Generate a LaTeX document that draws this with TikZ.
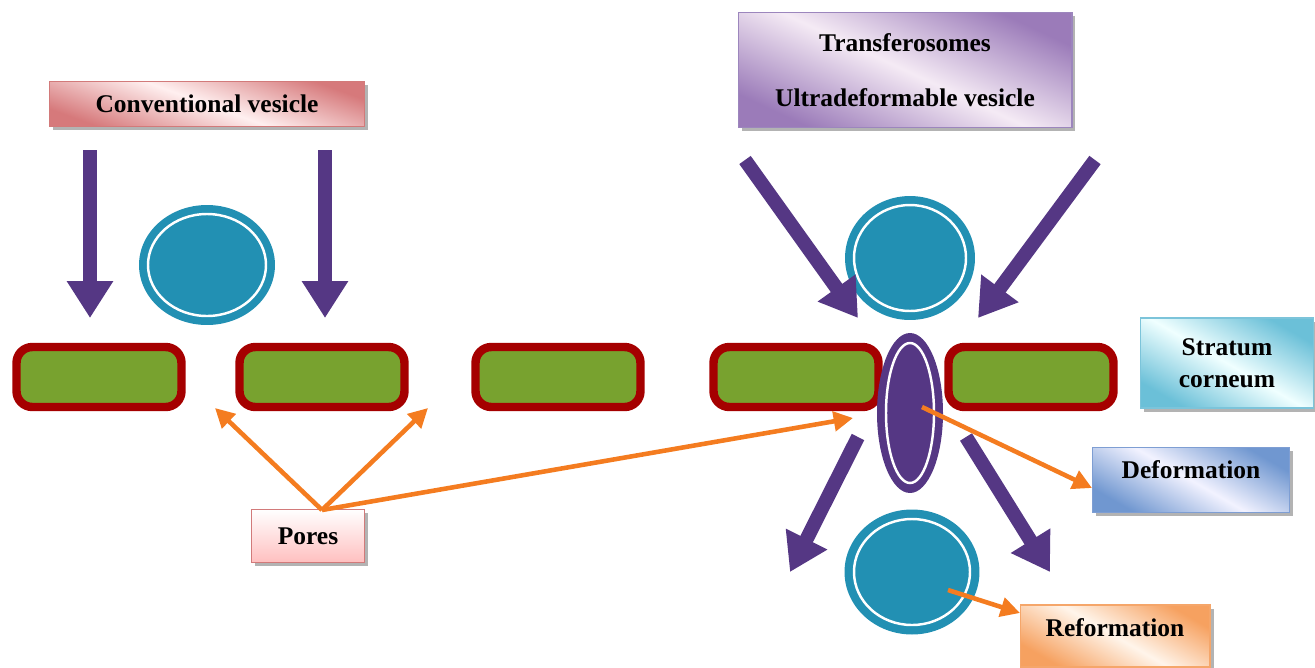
\documentclass[tikz,border=0pt]{standalone}
\usepackage{fontspec}
\setmainfont{Liberation Serif}
\usetikzlibrary{shapes.geometric,arrows.meta,shadows}

\definecolor{arrowpurple}{HTML}{553784}
\definecolor{ringteal}{HTML}{2290B3}
\definecolor{porange}{HTML}{F47C20}
\definecolor{barred}{HTML}{A50000}
\definecolor{bargreen}{HTML}{78A22F}
\definecolor{pinkedge}{HTML}{D27A7A}
\definecolor{pinkdark}{HTML}{D6797B}
\definecolor{violetedge}{HTML}{9C86BD}
\definecolor{violetdark}{HTML}{9B7BB9}
\definecolor{cyanedge}{HTML}{7CC4DA}
\definecolor{cyandark}{HTML}{6BC0D8}
\definecolor{blueedge}{HTML}{7E9ED3}
\definecolor{bluedark}{HTML}{7097D0}
\definecolor{orangeedge}{HTML}{F5A66A}
\definecolor{orangedark}{HTML}{F6A160}

\tikzset{
	bar/.style={draw=barred, fill=bargreen, line width=4.8pt, rounded corners=9pt,
		minimum width=3.3cm, minimum height=1.2cm,
		drop shadow={shadow xshift=1.5pt, shadow yshift=-1.5pt, fill=black!30!bargreen!70, opacity=0.8}},
	ring/.style={ellipse, fill=ringteal, inner sep=0pt},
	tagbox/.style={draw=#1, line width=0.6pt, align=center, font=\bfseries\fontsize{14.5}{17}\selectfont,
		drop shadow={shadow xshift=2pt, shadow yshift=-2pt, fill=black!50, opacity=0.6}},
	bigarrow/.style={draw=arrowpurple, line width=8pt, -{Triangle[length=21pt, width=25pt]}},
	porearrow/.style={draw=porange, line width=2.6pt, -{Triangle[length=11pt, width=11pt]}},
}

\begin{document}
\begin{tikzpicture}[x=0.02cm, y=-0.02cm]
	
	\useasboundingbox (0,0) rectangle (1315,667);
	
	% stratum corneum
	\node[bar] (b1) at (99,377) {};
	\node[bar] (b2) at (322,377) {};
	\node[bar] (b3) at (558,377) {};
	\node[bar] (b4) at (796,377) {};
	\node[bar] (b5) at (1031,377) {};
	
	% labels
	\node[tagbox=pinkedge, top color=pinkdark, bottom color=pinkdark, middle color=red!6,
		shading angle=-20, minimum width=6.3cm, minimum height=0.9cm] (conv) at (207,104) {Conventional vesicle};
	\node[tagbox=violetedge, top color=violetdark, bottom color=violetdark, middle color=violet!8,
		shading angle=-25, minimum width=6.68cm, minimum height=2.3cm] (trans) at (905,70) {Transferosomes\\[14pt]Ultradeformable vesicle};
	\node[tagbox=cyanedge, top color=cyandark, bottom color=cyandark, middle color=cyan!6,
		shading angle=-30, minimum width=3.46cm, minimum height=1.8cm, font=\bfseries\fontsize{14.5}{18}\selectfont] (sc) at (1227,363) {Stratum\\corneum};
	\node[tagbox=blueedge, top color=bluedark, bottom color=bluedark, middle color=blue!5,
		shading angle=-30, minimum width=3.94cm, minimum height=1.3cm, text depth=12pt] (deform) at (1191,480) {Deformation};
	\node[tagbox=pinkedge, top color=white, bottom color=red!25, minimum width=2.26cm, minimum height=1.06cm] (pores) at (308,536) {Pores};
	\node[tagbox=orangeedge, top color=orangedark, bottom color=orangedark, middle color=orange!8,
		shading angle=-30, minimum width=3.8cm, minimum height=1.24cm, text depth=10pt] (reform) at (1115,636) {Reformation};
	
	% vesicles
	\node[ring, minimum width=2.72cm, minimum height=2.4cm] (vL) at (207,265) {};
	\draw[white, line width=1.4pt] (vL.center) ellipse[x radius=59, y radius=51];
	\node[ring, minimum width=2.6cm, minimum height=2.48cm] (vT) at (910,258) {};
	\draw[white, line width=1.4pt] (vT.center) ellipse[x radius=56, y radius=53];
	\node[ring, minimum width=2.7cm, minimum height=2.5cm] (vB) at (912,572) {};
	\draw[white, line width=1.4pt] (vB.center) ellipse[x radius=58, y radius=53];
	\node[ellipse, fill=arrowpurple, inner sep=0pt, minimum width=1.32cm, minimum height=3.2cm] (squeeze) at (910,413) {};
	\draw[white, line width=1.4pt] (squeeze.center) ellipse[x radius=24, y radius=70];
	
	% purple arrows
	\coordinate (a1s) at (90,150);   \coordinate (a1e) at (90,318);
	\coordinate (a2s) at (325,150);  \coordinate (a2e) at (325,318);
	\coordinate (a3s) at (745,160);  \coordinate (a3e) at (858,318);
	\coordinate (a4s) at (1095,160); \coordinate (a4e) at (978,318);
	\coordinate (a5s) at (858,437);  \coordinate (a5e) at (790,572);
	\coordinate (a6s) at (966,437);  \coordinate (a6e) at (1050,572);
	\draw[bigarrow] (a1s) -- (a1e);
	\draw[bigarrow] (a2s) -- (a2e);
	\draw[bigarrow] (a3s) -- (a3e);
	\draw[bigarrow] (a4s) -- (a4e);
	\draw[bigarrow] (a5s) -- (a5e);
	\draw[bigarrow] (a6s) -- (a6e);
	
	% orange arrows
	\coordinate (pore1) at (215,408);
	\coordinate (pore2) at (428,408);
	\coordinate (pore3) at (853,418);
	\coordinate (poretop) at (322,510);
	\coordinate (sqmid) at (922,407);
	\coordinate (vBmid) at (948,590);
	\coordinate (reformin) at (1020,613);
	\draw[porearrow] (poretop) -- (pore1);
	\draw[porearrow] (poretop) -- (pore2);
	\draw[porearrow] (poretop) -- (pore3);
	\draw[porearrow] (sqmid) -- ([yshift=-0.16cm]deform.west);
	\draw[porearrow] (vBmid) -- (reformin);
	
\end{tikzpicture}
\end{document}
